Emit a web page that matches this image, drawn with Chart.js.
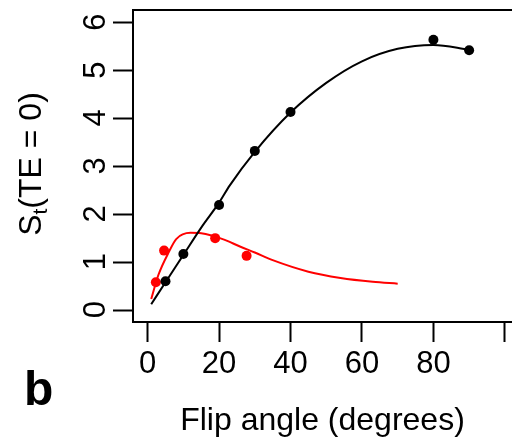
<!DOCTYPE html>
<html>
<head>
<meta charset="utf-8">
<script src="https://cdn.jsdelivr.net/npm/chart.js@4"></script>
<style>
html,body{margin:0;padding:0;background:#fff;}
#wrap{width:512px;height:440px;}
</style>
</head>
<body>
<div id="wrap"><canvas id="chart"></canvas></div>
<script>

// measured points
const blackX = [5, 10, 20, 30, 40, 80, 90]
const blackY = [0.6, 1.17, 2.19, 3.32, 4.13, 5.64, 5.42]
const redX = [2.3, 4.6, 18.9, 27.7]
const redY = [0.58, 1.24, 1.5, 1.13]

// fitted curves
const fitBlackX = [1, 5, 10, 15, 20, 23, 30, 40, 50, 60, 70, 80, 90]
const fitBlackY = [0.12, 0.58, 1.15, 1.72, 2.24, 2.6, 3.3, 4.12, 4.74, 5.19, 5.45, 5.53, 5.43]
const fitRedX = [1, 3, 6, 8, 12, 15, 21, 26, 30, 35, 45, 54, 63, 70]
const fitRedY = [0.23, 0.73, 1.22, 1.48, 1.61, 1.6, 1.48, 1.32, 1.2, 1.04, 0.8, 0.67, 0.59, 0.55]

const xTicks = [0, 20, 40, 60, 80, 100]
const xTickLabels = ["0", "20", "40", "60", "80", ""]   // 100 falls off the edge
const yTicks = [0, 1, 2, 3, 4, 5, 6]

const xTitle = "Flip angle (degrees)"
const panelLabel = "b"

const FONT = "Liberation Sans, Arial, sans-serif"

function pts(xs, ys){
return xs.map((x,i)=>({x:x, y:ys[i]}))
}

const extras = {
id:"extras",
afterDraw(c){
const ctx = c.ctx
const a = c.chartArea
ctx.save()
// top border of the box
ctx.strokeStyle = "#000"
ctx.lineWidth = 2
ctx.beginPath()
ctx.moveTo(a.left-1, a.top)
ctx.lineTo(a.right, a.top)
ctx.stroke()

// y axis title with subscript
ctx.fillStyle = "#000"
ctx.translate(41, 164)
ctx.rotate(-Math.PI/2)
ctx.textBaseline = "alphabetic"
const s1 = "S", s3 = "(TE = 0)"
ctx.font = "21px " + FONT
const w2 = ctx.measureText("t").width
ctx.font = "32px " + FONT
const w1 = ctx.measureText(s1).width
const w3 = ctx.measureText(s3).width
let x0 = -(w1+w2+w3)/2
ctx.fillText(s1, x0, 0)
ctx.font = "21px " + FONT
ctx.fillText("t", x0+w1, 6)
ctx.font = "32px " + FONT
ctx.fillText(s3, x0+w1+w2, 0)
ctx.restore()

// panel label
ctx.save()
ctx.fillStyle = "#000"
ctx.font = "bold 48px " + FONT
ctx.textBaseline = "alphabetic"
ctx.fillText(panelLabel, 24, 405)
ctx.restore()
}
}

chart = new Chart(document.getElementById("chart"),{

type:"scatter",

data:{
datasets:[
{
type:"line",
data: pts(fitBlackX, fitBlackY),
borderColor:"#000",
borderWidth:2,
pointRadius:0,
cubicInterpolationMode:"monotone",
fill:false
},
{
type:"line",
data: pts(fitRedX, fitRedY),
borderColor:"#ff0000",
borderWidth:2,
pointRadius:0,
cubicInterpolationMode:"monotone",
fill:false
},
{
data: pts(blackX, blackY),
backgroundColor:"#000",
borderColor:"#000",
pointRadius:5,
borderWidth:0
},
{
data: pts(redX, redY),
backgroundColor:"#ff0000",
borderColor:"#ff0000",
pointRadius:5,
borderWidth:0
}
]
},

options:{
responsive:true,
maintainAspectRatio:false,
animation:false,
layout:{autoPadding:false, padding:{top:10,left:0,right:0,bottom:0}},
plugins:{
legend:{display:false},
tooltip:{enabled:false}
},
scales:{
x:{
type:"linear",
min:-4.1,
max:102,
afterBuildTicks(s){ s.ticks = xTicks.map(v=>({value:v})) },
afterFit(s){ s.height = 118; s.paddingLeft = 0; s.paddingRight = 0 },
grid:{drawOnChartArea:false, drawTicks:true, tickLength:20, tickColor:"#000", tickWidth:2},
border:{display:true, color:"#000", width:2},
ticks:{
color:"#000", font:{family:FONT, size:31}, padding:4, maxRotation:0,
callback:(v,i)=>xTickLabels[i]
},
title:{display:true, text:xTitle, color:"#000", font:{family:FONT, size:32}, padding:{top:0,bottom:0}}
},
y:{
type:"linear",
min:-0.25,
max:6.26,
afterBuildTicks(s){ s.ticks = yTicks.map(v=>({value:v})) },
afterFit(s){ s.width = 133; s.paddingTop = 0; s.paddingBottom = 0 },
grid:{drawOnChartArea:false, drawTicks:true, tickLength:20, tickColor:"#000", tickWidth:2},
border:{display:true, color:"#000", width:2},
ticks:{color:"#000", font:{family:FONT, size:31}, padding:17, labelOffset:-9, minRotation:90, maxRotation:90}
}
}
},

plugins:[extras]

})

</script>
</body>
</html>
